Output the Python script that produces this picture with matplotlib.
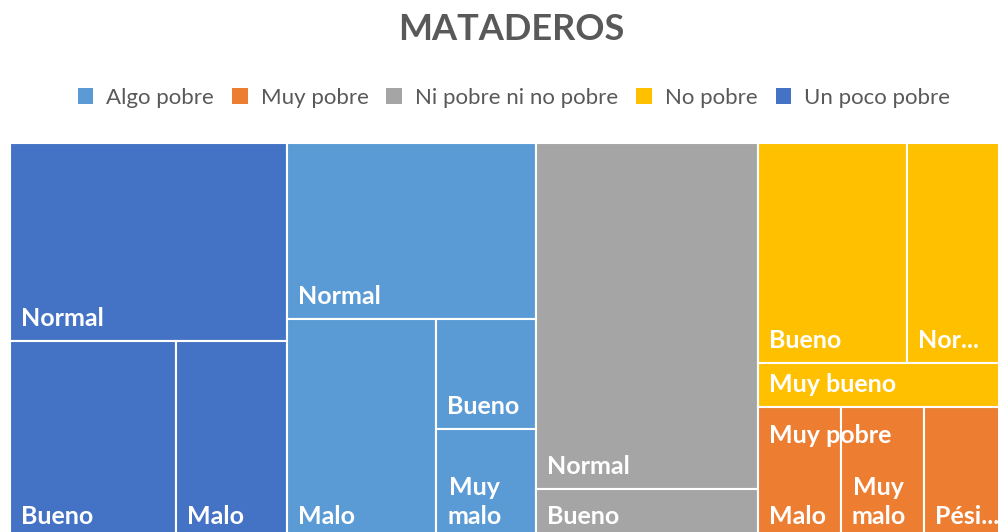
import matplotlib
matplotlib.use('Agg')
import matplotlib.pyplot as plt
from matplotlib.patches import Rectangle, Patch

# data
groups = ['Un poco pobre', 'Algo pobre', 'Ni pobre ni no pobre', 'No pobre', 'Muy pobre']
un_poco_pobre_labels = ['Normal', 'Bueno', 'Malo']
un_poco_pobre_values = [5, 3, 2]
algo_pobre_labels = ['Normal', 'Malo', 'Bueno', 'Muy malo']
algo_pobre_values = [4, 3, 1, 1]
ni_pobre_labels = ['Normal', 'Bueno']
ni_pobre_values = [7, 1]
no_pobre_labels = ['Bueno', 'Normal', 'Muy bueno']
no_pobre_values = [3, 2, 1]
muy_pobre_labels = ['Malo', 'Muy malo', 'Pésimo']
muy_pobre_values = [1, 1, 1]
legend_order = ['Algo pobre', 'Muy pobre', 'Ni pobre ni no pobre', 'No pobre', 'Un poco pobre']
parent_label_groups = ['Muy pobre']

children = {
    'Un poco pobre': (un_poco_pobre_labels, un_poco_pobre_values),
    'Algo pobre': (algo_pobre_labels, algo_pobre_values),
    'Ni pobre ni no pobre': (ni_pobre_labels, ni_pobre_values),
    'No pobre': (no_pobre_labels, no_pobre_values),
    'Muy pobre': (muy_pobre_labels, muy_pobre_values),
}
colors = {
    'Algo pobre': '#5B9BD5',
    'Muy pobre': '#ED7D31',
    'Ni pobre ni no pobre': '#A5A5A5',
    'No pobre': '#FFC000',
    'Un poco pobre': '#4472C4',
}

FONT = 'Lato'
LABEL_SIZE = 18


def avg_ratio(row, short):
    thick = sum(row) / short
    rs = []
    for a in row:
        length = a / thick
        rs.append(max(thick / length, length / thick))
    return sum(rs) / len(rs)


def squarify(values, x, y, w, h):
    total = sum(values)
    areas = [v * w * h / total for v in values]
    rects = []
    i = 0
    while i < len(areas):
        short = min(w, h)
        row = [areas[i]]
        j = i + 1
        while j < len(areas) and avg_ratio(row + [areas[j]], short) <= avg_ratio(row, short):
            row.append(areas[j])
            j += 1
        thick = sum(row) / short
        if w >= h:
            yy = y
            for a in row:
                rects.append((x, yy, thick, a / thick))
                yy += a / thick
            x += thick
            w -= thick
        else:
            xx = x
            for a in row:
                rects.append((xx, y, a / thick, thick))
                xx += a / thick
            y += thick
            h -= thick
        i = j
    return rects


def sort_desc(labels, values):
    pairs = sorted(zip(labels, values), key=lambda p: -p[1])
    return [p[0] for p in pairs], [p[1] for p in pairs]


fig = plt.figure(figsize=(9.98, 5.32), dpi=100)
# plot area in pixels: x 10..1007, y 143..539 (from top)
W, H = 997.0, 396.0
ax = fig.add_axes([10 / 998, (532 - 539) / 532, W / 998, H / 532])
ax.set_xlim(0, W)
ax.set_ylim(H, 0)
ax.axis('off')
renderer = fig.canvas.get_renderer()


def text_width(s):
    t = ax.text(0, 0, s, fontsize=LABEL_SIZE, fontweight='bold', family=FONT)
    bb = t.get_window_extent(renderer)
    t.remove()
    return bb.width


def fit_label(label, width):
    if text_width(label) <= width:
        return label
    words = label.split()
    if len(words) > 1 and all(text_width(wd) <= width for wd in words):
        return '\n'.join(words)
    for k in range(len(label) - 1, 0, -1):
        s = label[:k].rstrip() + '...'
        if text_width(s) <= width:
            return s
    return ''


group_values = [sum(children[g][1]) for g in groups]
gnames, gvals = sort_desc(groups, group_values)
pad = 11
for g, (gx, gy, gw, gh) in zip(gnames, squarify(gvals, 0, 0, W, H)):
    labs, vals = sort_desc(*children[g])
    for lab, (cx, cy, cw, ch) in zip(labs, squarify(vals, gx, gy, gw, gh)):
        ax.add_patch(Rectangle((cx, cy), cw, ch, facecolor=colors[g],
                               edgecolor='white', linewidth=1.5))
        shown = fit_label(lab, cw - pad - 7.3)
        ax.text(cx + pad, cy + ch - 15, shown, color='white', fontsize=LABEL_SIZE,
                fontweight='bold', family=FONT, ha='left', va='baseline',
                multialignment='center', linespacing=1.3)
    if g in parent_label_groups:
        ax.text(gx + pad, gy + 36, g, color='white', fontsize=LABEL_SIZE,
                fontweight='bold', family=FONT, ha='left', va='baseline')

fig.text(511 / 998, 1 - 30 / 532, 'MATADEROS', ha='center', va='center',
         fontsize=26, fontweight='bold', color='#595959', family=FONT)

handles = [Patch(facecolor=colors[g], edgecolor='none') for g in legend_order]
fig.legend(handles, legend_order, loc='center', bbox_to_anchor=(514 / 998, 1 - 98 / 532),
           ncol=5, frameon=False, handlelength=0.7, handleheight=0.7,
           handletextpad=0.6, columnspacing=0.8,
           prop={'family': FONT, 'size': 16}, labelcolor='#595959')

fig.savefig('out.png', dpi=100)
